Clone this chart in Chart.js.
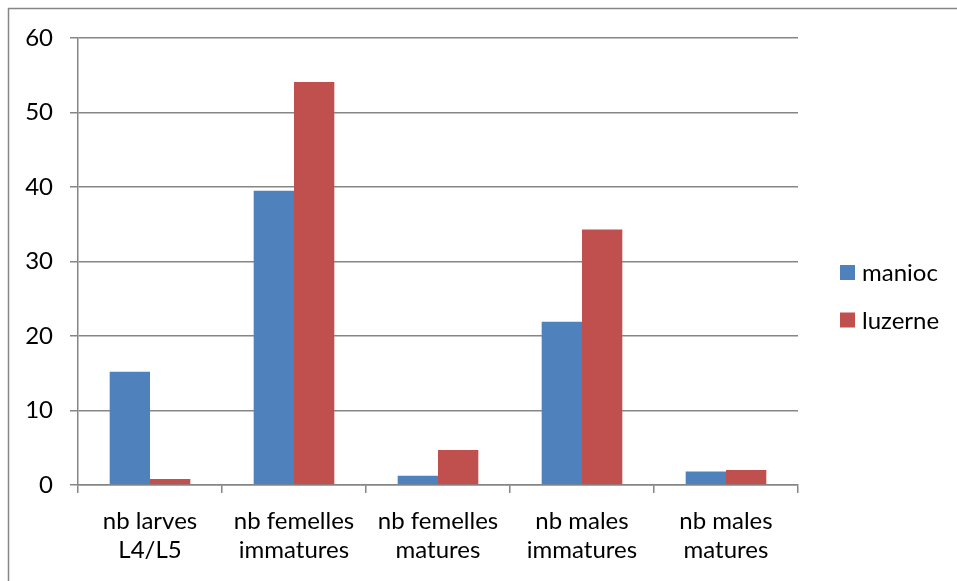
<!DOCTYPE html>
<html>
<head>
<meta charset="utf-8">
<script src="https://cdn.jsdelivr.net/npm/chart.js@4/dist/chart.umd.min.js"></script>
<style>
  html, body { margin: 0; padding: 0; background: #fff; }
  #wrap { width: 957px; height: 581px; position: relative; }
</style>
</head>
<body>
<div id="wrap"><canvas id="c" width="957" height="581"></canvas></div>
<script>
// Categories (multi-line labels) and series values
const categories = [
  ['nb larves', 'L4/L5'],
  ['nb femelles', 'immatures'],
  ['nb femelles', 'matures'],
  ['nb males', 'immatures'],
  ['nb males', 'matures']
];
const manioc = [15.2, 39.5, 1.25, 21.9, 1.8];
const luzerne = [0.8, 54.1, 4.7, 34.3, 2.0];
const yTicks = [0, 10, 20, 30, 40, 50, 60];

const FONT = 'Lato, "Open Sans", sans-serif';
const FONT_SIZE = 24;
const GRID = '#868686';

// Frame line along the top and left of the figure, plus a legend on the right
const framePlugin = {
  id: 'frame',
  afterDraw(chart) {
    const ctx = chart.ctx;
    ctx.save();
    ctx.strokeStyle = GRID;
    ctx.lineWidth = 1.5;
    ctx.beginPath();
    ctx.moveTo(8.5, chart.height + 2);
    ctx.lineTo(8.5, 8.5);
    ctx.lineTo(chart.width + 2, 8.5);
    ctx.stroke();

    // legend
    const items = chart.data.datasets;
    const x0 = 840, yc = [272.5, 320];
    ctx.font = FONT_SIZE + 'px ' + FONT;
    ctx.textBaseline = 'middle';
    ctx.textAlign = 'left';
    items.forEach((ds, i) => {
      ctx.fillStyle = ds.backgroundColor;
      ctx.fillRect(x0, yc[i] - 7.5, 15, 15);
      ctx.fillStyle = '#000';
      ctx.fillText(ds.label, x0 + 22, yc[i] + 1);
    });
    ctx.restore();
  }
};

new Chart(document.getElementById('c'), {
  type: 'bar',
  data: {
    labels: categories,
    datasets: [
      { label: 'manioc', data: manioc, backgroundColor: '#4F81BD' },
      { label: 'luzerne', data: luzerne, backgroundColor: '#C0504D' }
    ]
  },
  options: {
    responsive: false,
    animation: false,
    devicePixelRatio: 1,
    layout: { padding: { top: 38, right: 159, bottom: 0, left: 0 } },
    datasets: { bar: { barPercentage: 1, categoryPercentage: 0.56, borderWidth: 0 } },
    plugins: {
      legend: { display: false },
      tooltip: { enabled: false }
    },
    scales: {
      x: {
        afterFit(s) { s.height = 96; },
        grid: { drawOnChartArea: false, drawTicks: true, tickLength: 8, offset: true, color: GRID, lineWidth: 1.5 },
        border: { color: GRID, width: 1.5 },
        ticks: { color: '#000', font: { family: FONT, size: FONT_SIZE, lineHeight: 1.24 }, padding: 13, maxRotation: 0, autoSkip: false }
      },
      y: {
        min: 0,
        max: 60,
        afterFit(s) { s.width = 78; },
        afterBuildTicks(s) { s.ticks = yTicks.map(v => ({ value: v })); },
        grid: { color: GRID, lineWidth: 1.5, tickLength: 8 },
        border: { color: GRID, width: 1.5 },
        ticks: { color: '#000', font: { family: FONT, size: FONT_SIZE }, padding: 17 }
      }
    }
  },
  plugins: [framePlugin]
});
</script>
</body>
</html>
